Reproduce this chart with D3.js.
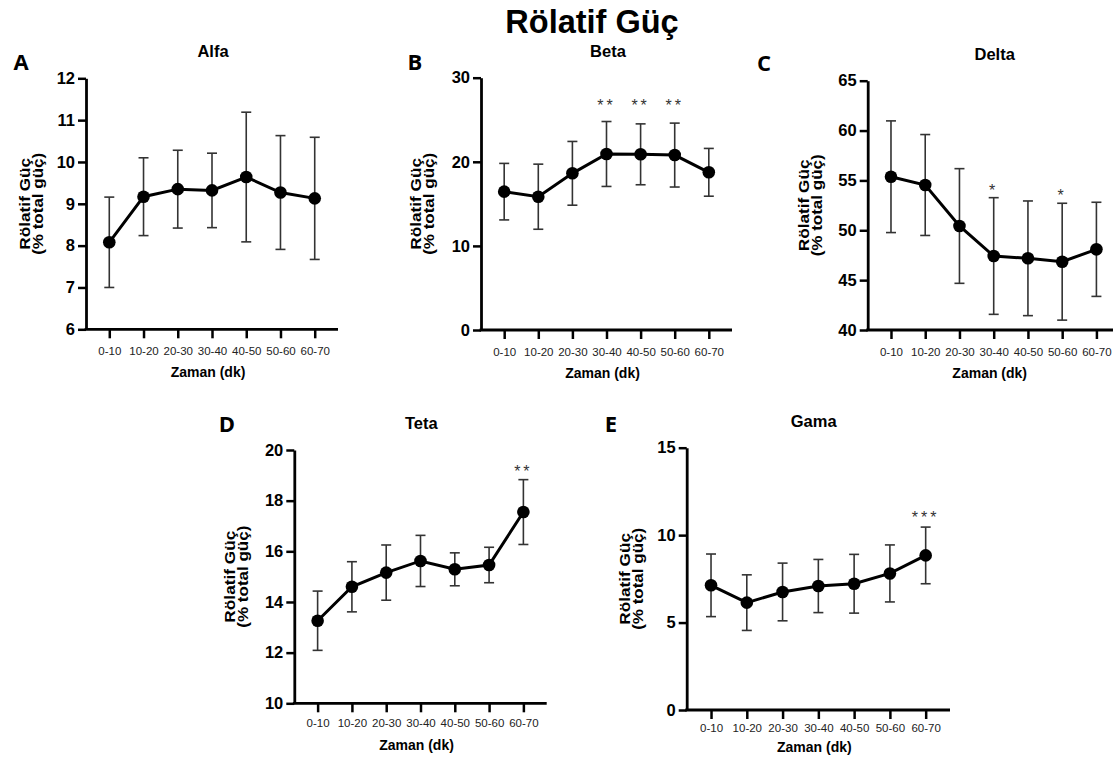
<!DOCTYPE html>
<html>
<head>
<meta charset="utf-8">
<script src="https://cdn.jsdelivr.net/npm/d3@7"></script>
<style>
  body { margin: 0; background: #fff; }
  svg { display: block; font-family: "Liberation Sans", Arial, sans-serif; }
</style>
</head>
<body>
<script>
// -- data --
var categories = ["0-10", "10-20", "20-30", "30-40", "40-50", "50-60", "60-70"];

var alfaMean = [8.08, 9.17, 9.35, 9.32, 9.64, 9.27, 9.13];
var alfaSd   = [1.08, 0.93, 0.93, 0.89, 1.55, 1.36, 1.46];
var alfaSig  = ["", "", "", "", "", "", ""];
var alfaTicks = [6, 7, 8, 9, 10, 11, 12];

var betaMean = [16.45, 15.85, 18.63, 20.93, 20.89, 20.8, 18.75];
var betaSd   = [3.36, 3.87, 3.79, 3.86, 3.62, 3.8, 2.84];
var betaSig  = ["", "", "", "**", "**", "**", ""];
var betaTicks = [0, 10, 20, 30];

var deltaMean = [55.37, 54.54, 50.43, 47.42, 47.19, 46.85, 48.09];
var deltaSd   = [5.6, 5.06, 5.75, 5.85, 5.75, 5.86, 4.72];
var deltaSig  = ["", "", "", "*", "", "*", ""];
var deltaTicks = [40, 45, 50, 55, 60, 65];

var tetaMean = [13.26, 14.6, 15.16, 15.62, 15.29, 15.46, 17.55];
var tetaSd   = [1.17, 0.99, 1.09, 1.01, 0.65, 0.7, 1.28];
var tetaSig  = ["", "", "", "", "", "", "**"];
var tetaTicks = [10, 12, 14, 16, 18, 20];

var gamaMean = [7.13, 6.14, 6.75, 7.09, 7.22, 7.81, 8.84];
var gamaSd   = [1.79, 1.59, 1.65, 1.52, 1.68, 1.63, 1.62];
var gamaSig  = ["", "", "", "", "", "", "***"];
var gamaTicks = [0, 5, 10, 15];

// -- layout of each panel (pixels) --
var panels = [
  {letter: "A", title: "Alfa",  mean: alfaMean,  sd: alfaSd,  sig: alfaSig,  ticks: alfaTicks,
   x0: 86,    w: 252,   top: 78.3,  bot: 329.3, lx: 21,  ly: 70,  ytOff: 56,
   starGap: 12, starLevel: false, labPad: 9, titleGap: 48},
  {letter: "B", title: "Beta",  mean: betaMean,  sd: betaSd,  sig: betaSig,  ticks: betaTicks,
   x0: 481,   w: 251,   top: 77.7,  bot: 330,   lx: 415, ly: 70,  ytOff: 60,
   starGap: 20, starLevel: true,  labPad: 9, titleGap: 48},
  {letter: "C", title: "Delta", mean: deltaMean, sd: deltaSd, sig: deltaSig, ticks: deltaTicks,
   x0: 867.7, w: 252,   top: 80.7,  bot: 330,   lx: 764, ly: 71,  ytOff: 59,
   starGap: 11, starLevel: false, labPad: 9, titleGap: 48},
  {letter: "D", title: "Teta",  mean: tetaMean,  sd: tetaSd,  sig: tetaSig,  ticks: tetaTicks,
   x0: 294.3, w: 252.4, top: 450,   bot: 703.3, lx: 227, ly: 432, ytOff: 59,
   starGap: 12, starLevel: false, labPad: 7, titleGap: 46.5},
  {letter: "E", title: "Gama",  mean: gamaMean,  sd: gamaSd,  sig: gamaSig,  ticks: gamaTicks,
   x0: 686.7, w: 263.3, top: 447.7, bot: 710,   lx: 611, ly: 432, ytOff: 57,
   starGap: 13, starLevel: false, labPad: 5, titleGap: 41.5}
];

var svg = d3.select("body").append("svg")
  .attr("width", 1113)
  .attr("height", 758);

svg.append("text")
  .attr("x", 592)
  .attr("y", 33)
  .attr("text-anchor", "middle")
  .attr("font-size", 32.5)
  .attr("font-weight", "bold")
  .text("Rölatif Güç");

function draw_panel(p) {
  var g = svg.append("g");

  var x = d3.scalePoint()
    .domain(categories)
    .range([p.x0, p.x0 + p.w])
    .padding(0.68);
  var y = d3.scaleLinear()
    .domain([p.ticks[0], p.ticks[p.ticks.length - 1]])
    .range([p.bot, p.top]);

  // panel letter + title
  g.append("text")
    .attr("x", p.lx).attr("y", p.ly)
    .attr("text-anchor", "middle")
    .attr("font-family", "'Open Sans', sans-serif")
    .attr("font-size", 22)
    .attr("font-weight", "bold")
    .text(p.letter);

  var mid = p.x0 + p.w / 2;
  g.append("text")
    .attr("x", p.x0 + 127).attr("y", p.top - 21)
    .attr("text-anchor", "middle")
    .attr("font-size", 16.5)
    .attr("font-weight", "bold")
    .text(p.title);

  // y axis
  var yAxis = g.append("g")
    .attr("transform", "translate(" + p.x0 + ",0)")
    .call(d3.axisLeft(y).tickValues(p.ticks).tickFormat(d3.format("d"))
      .tickSize(8).tickSizeOuter(0).tickPadding(3));
  yAxis.select(".domain").attr("stroke-width", 2.8).attr("stroke", "#000");
  yAxis.selectAll(".tick line").attr("stroke-width", 2.5).attr("stroke", "#000");
  yAxis.selectAll(".tick text")
    .attr("font-size", 16.5).attr("font-weight", "bold")
    .attr("font-family", "'Liberation Sans', Arial, sans-serif")
    .attr("fill", "#000");

  // x axis
  var xAxis = g.append("g")
    .attr("transform", "translate(0," + p.bot + ")")
    .call(d3.axisBottom(x).tickSize(9).tickSizeOuter(0).tickPadding(p.labPad));
  xAxis.select(".domain").remove();
  xAxis.selectAll(".tick line").attr("stroke-width", 2.5).attr("stroke", "#000");
  xAxis.selectAll(".tick text")
    .attr("font-size", 11.5)
    .attr("font-family", "'Liberation Sans', Arial, sans-serif")
    .attr("fill", "#222");
  g.append("line")
    .attr("x1", p.x0 - 1.4).attr("x2", p.x0 + p.w)
    .attr("y1", p.bot).attr("y2", p.bot)
    .attr("stroke", "#000").attr("stroke-width", 2.8);

  // axis titles
  g.append("text")
    .attr("x", mid - 4).attr("y", p.bot + p.titleGap)
    .attr("text-anchor", "middle")
    .attr("font-size", 14)
    .attr("font-weight", "bold")
    .text("Zaman (dk)");

  var ymid = (p.top + p.bot) / 2;
  var yt = g.append("text")
    .attr("transform", "translate(" + (p.x0 - p.ytOff) + "," + ymid + ") rotate(-90)")
    .attr("text-anchor", "middle")
    .attr("font-size", 14)
    .attr("font-weight", "bold");
  yt.append("tspan").attr("x", 0).attr("dy", 0)
    .attr("textLength", 92).attr("lengthAdjust", "spacingAndGlyphs")
    .text("Rölatif Güç");
  yt.append("tspan").attr("x", 0).attr("dy", 13)
    .attr("textLength", 102).attr("lengthAdjust", "spacingAndGlyphs")
    .text("(% total güç)");

  var pts = categories.map(function(c, i) {
    return {cat: c, mean: p.mean[i], sd: p.sd[i], sig: p.sig[i]};
  });

  // error bars
  var eb = g.selectAll(".eb").data(pts).enter().append("g")
    .attr("stroke", "#333").attr("stroke-width", 1.6);
  eb.append("line")
    .attr("x1", function(d) { return x(d.cat); })
    .attr("x2", function(d) { return x(d.cat); })
    .attr("y1", function(d) { return y(d.mean - d.sd); })
    .attr("y2", function(d) { return y(d.mean + d.sd); });
  eb.append("line")
    .attr("x1", function(d) { return x(d.cat) - 5; })
    .attr("x2", function(d) { return x(d.cat) + 5; })
    .attr("y1", function(d) { return y(d.mean + d.sd); })
    .attr("y2", function(d) { return y(d.mean + d.sd); });
  eb.append("line")
    .attr("x1", function(d) { return x(d.cat) - 5; })
    .attr("x2", function(d) { return x(d.cat) + 5; })
    .attr("y1", function(d) { return y(d.mean - d.sd); })
    .attr("y2", function(d) { return y(d.mean - d.sd); });

  // mean line + dots
  var line = d3.line()
    .x(function(d) { return x(d.cat); })
    .y(function(d) { return y(d.mean); });
  g.append("path")
    .datum(pts)
    .attr("d", line)
    .attr("fill", "none")
    .attr("stroke", "#000")
    .attr("stroke-width", 3);
  g.selectAll(".dot").data(pts).enter().append("circle")
    .attr("cx", function(d) { return x(d.cat); })
    .attr("cy", function(d) { return y(d.mean); })
    .attr("r", 6.3)
    .attr("fill", "#000");

  // significance stars
  var starred = pts.filter(function(d) { return d.sig != ""; });
  var level = d3.min(starred, function(d) { return y(d.mean + d.sd); });
  g.selectAll(".sig").data(starred).enter().append("text")
    .attr("x", function(d) { return x(d.cat); })
    .attr("y", function(d) {
      var top = p.starLevel ? level : y(d.mean + d.sd);
      return top - p.starGap + 9;
    })
    .attr("text-anchor", "middle")
    .attr("font-size", 16)
    .attr("letter-spacing", 3)
    .attr("fill", "#333")
    .text(function(d) { return d.sig; });
}

panels.forEach(draw_panel);
</script>
</body>
</html>
